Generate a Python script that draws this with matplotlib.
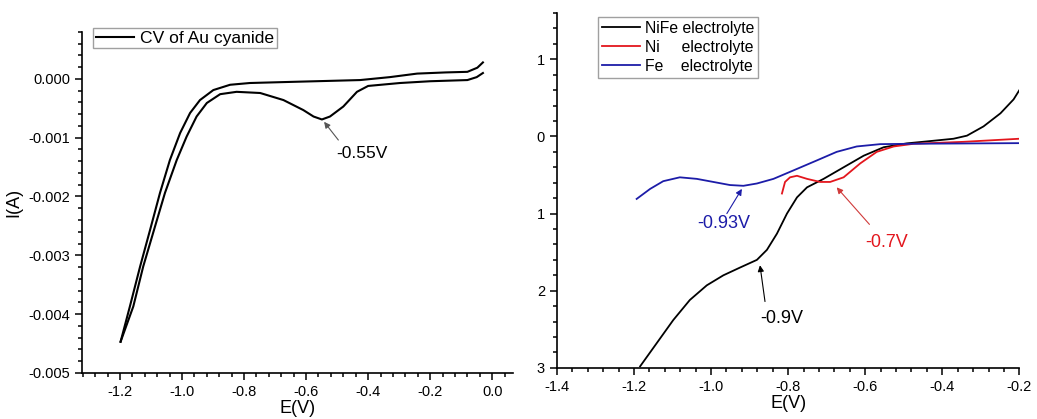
import matplotlib
matplotlib.use('Agg')
import matplotlib.pyplot as plt
from matplotlib.ticker import MultipleLocator, FormatStrFormatter

plt.rcParams['font.family'] = ['Liberation Sans', 'DejaVu Sans']
plt.rcParams['axes.unicode_minus'] = False

# --- left panel: CV of Au cyanide (two scan branches) ---
au_fwd_e = [-1.198, -1.157, -1.125, -1.087, -1.055, -1.017, -0.985, -0.953, -0.92,
            -0.877, -0.824, -0.748, -0.673, -0.609, -0.576, -0.549, -0.523, -0.48,
            -0.436, -0.40, -0.297, -0.2, -0.08, -0.05, -0.03]
au_fwd_i = [-0.00447, -0.00387, -0.00319, -0.00251, -0.00194, -0.00138, -0.00098,
            -0.00064, -0.00041, -0.00026, -0.00022, -0.00024, -0.00036, -0.00053,
            -0.00064, -0.00069, -0.00064, -0.00047, -0.00022, -0.00012, -0.00007,
            -0.00004, -0.00002, 0.00003, 0.0001]
au_rev_e = [-1.198, -1.168, -1.135, -1.103, -1.071, -1.039, -1.006, -0.974, -0.942,
            -0.899, -0.845, -0.781, -0.641, -0.426, -0.33, -0.242, -0.15, -0.08,
            -0.048, -0.03]
au_rev_i = [-0.00447, -0.00387, -0.00319, -0.00257, -0.00194, -0.00138, -0.00092,
            -0.00058, -0.00036, -0.00019, -0.0001, -0.00007, -0.00005, -0.00002,
            0.00003, 0.00009, 0.00011, 0.00012, 0.00019, 0.00028]

# --- right panel: three electrolytes ---
nife_e = [-1.184, -1.141, -1.098, -1.055, -1.011, -0.968, -0.925, -0.881, -0.855,
          -0.829, -0.803, -0.777, -0.751, -0.708, -0.656, -0.604, -0.552, -0.492,
          -0.431, -0.371, -0.336, -0.293, -0.249, -0.215, -0.2]
nife_i = [-2.98, -2.68, -2.38, -2.12, -1.93, -1.80, -1.70, -1.60, -1.47, -1.26,
          -1.00, -0.79, -0.66, -0.55, -0.40, -0.25, -0.14, -0.09, -0.06, -0.03,
          0.01, 0.13, 0.30, 0.48, 0.60]
ni_e = [-0.816, -0.808, -0.795, -0.777, -0.751, -0.717, -0.691, -0.656, -0.613,
        -0.57, -0.526, -0.474, -0.345, -0.2]
ni_i = [-0.74, -0.59, -0.53, -0.51, -0.55, -0.59, -0.59, -0.53, -0.35, -0.20,
        -0.13, -0.095, -0.07, -0.03]
fe_e = [-1.193, -1.158, -1.124, -1.081, -1.037, -0.994, -0.951, -0.916, -0.881,
        -0.838, -0.786, -0.725, -0.674, -0.622, -0.561, -0.474, -0.2]
fe_i = [-0.81, -0.68, -0.58, -0.53, -0.55, -0.59, -0.63, -0.64, -0.61, -0.55,
        -0.44, -0.31, -0.20, -0.13, -0.10, -0.095, -0.087]

right_ticks = [-3, -2, -1, 0, 1]
right_ticklabels = ['3', '2', '1', '0', '1']

RED = '#e3161d'
BLUE = '#1c1ca8'

fig = plt.figure(figsize=(10.37, 4.19), dpi=100)
ax1 = fig.add_axes([0.079, 0.110, 0.416, 0.814])
ax2 = fig.add_axes([0.537, 0.122, 0.446, 0.847])

for ax in (ax1, ax2):
    ax.spines['top'].set_visible(False)
    ax.spines['right'].set_visible(False)
    ax.spines['left'].set_linewidth(1.2)
    ax.spines['bottom'].set_linewidth(1.2)
    ax.tick_params(which='major', direction='out', length=5, width=1.1, labelsize=10.5)
    ax.tick_params(which='minor', direction='out', length=3, width=1.1)


def arrow(ax, head, tail, color):
    ax.annotate('', xy=head, xytext=tail,
                arrowprops=dict(arrowstyle='-|>', color=color, lw=0.8,
                                mutation_scale=9, shrinkA=0, shrinkB=0))


# left
ax1.plot(au_fwd_e, au_fwd_i, color='black', lw=1.5, label='CV of Au cyanide')
ax1.plot(au_rev_e, au_rev_i, color='black', lw=1.5)
ax1.set_xlim(-1.3226, 0.068)
ax1.set_ylim(-0.005, 0.0008)
ax1.xaxis.set_major_locator(MultipleLocator(0.2))
ax1.xaxis.set_minor_locator(MultipleLocator(0.04))
ax1.yaxis.set_major_locator(MultipleLocator(0.001))
ax1.yaxis.set_minor_locator(MultipleLocator(0.0002))
ax1.xaxis.set_major_formatter(FormatStrFormatter('%.1f'))
ax1.yaxis.set_major_formatter(FormatStrFormatter('%.3f'))
ax1.set_xlabel('E(V)', fontsize=13, labelpad=1)
ax1.set_ylabel('I(A)', fontsize=13, labelpad=4)
arrow(ax1, (-0.542, -0.00073), (-0.496, -0.00104), '#555555')
ax1.text(-0.502, -0.00127, '-0.55V', fontsize=12.5, ha='left', va='center')
leg1 = ax1.legend(loc='upper left', bbox_to_anchor=(0.0255, 1.012), fontsize=12.6,
                  frameon=True, fancybox=False, handlelength=2.2,
                  borderpad=0.15, handletextpad=0.35, borderaxespad=0)
leg1.get_frame().set_edgecolor('#888888')
leg1.get_frame().set_linewidth(1.0)

# right
ax2.plot(nife_e, nife_i, color='black', lw=1.3, label='NiFe electrolyte')
ax2.plot(ni_e, ni_i, color=RED, lw=1.3, label='Ni     electrolyte')
ax2.plot(fe_e, fe_i, color=BLUE, lw=1.3, label='Fe    electrolyte')
ax2.set_xlim(-1.4, -0.2)
ax2.set_ylim(-3, 1.6)
ax2.xaxis.set_major_locator(MultipleLocator(0.2))
ax2.xaxis.set_minor_locator(MultipleLocator(0.04))
ax2.xaxis.set_major_formatter(FormatStrFormatter('%.1f'))
ax2.set_yticks(right_ticks)
ax2.set_yticklabels(right_ticklabels)
ax2.yaxis.set_minor_locator(MultipleLocator(0.2))
ax2.set_xlabel('E(V)', fontsize=13, labelpad=1)

arrow(ax2, (-0.92, -0.68), (-0.959, -1.0), BLUE)
ax2.text(-0.968, -1.13, '-0.93V', fontsize=13, color=BLUE, ha='center', va='center')
arrow(ax2, (-0.674, -0.66), (-0.589, -1.14), '#d03a3a')
ax2.text(-0.544, -1.38, '-0.7V', fontsize=13, color=RED, ha='center', va='center')
arrow(ax2, (-0.873, -1.67), (-0.86, -2.14), 'black')
ax2.text(-0.816, -2.36, '-0.9V', fontsize=13, color='black', ha='center', va='center')

leg2 = ax2.legend(loc='upper left', bbox_to_anchor=(0.089, 0.989), fontsize=11.3,
                  frameon=True, fancybox=False, handlelength=2.4,
                  borderpad=0.25, handletextpad=0.35, labelspacing=0.25,
                  borderaxespad=0)
leg2.get_frame().set_edgecolor('#888888')
leg2.get_frame().set_linewidth(1.0)

plt.savefig('out.png', dpi=100)
plt.close()
